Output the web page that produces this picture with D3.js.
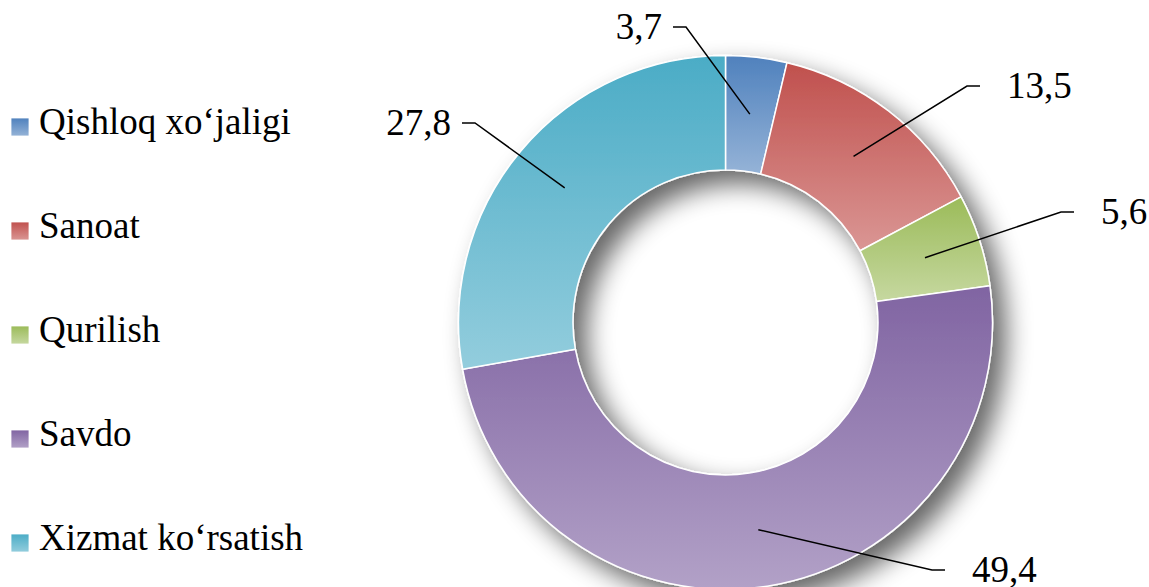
<!DOCTYPE html>
<html>
<head>
<meta charset="utf-8">
<script src="https://cdn.jsdelivr.net/npm/d3@7"></script>
<style>
  html, body { margin: 0; padding: 0; background: #fff; }
  svg { display: block; }
  svg text { font-family: "Liberation Serif", "DejaVu Serif", serif; }
</style>
</head>
<body>
<svg id="chart" width="1149" height="587"></svg>
<script>
// ---- data ----
const categories = ["Qishloq xo\u2018jaligi", "Sanoat", "Qurilish", "Savdo", "Xizmat ko\u2018rsatish"];
const values = [3.7, 13.5, 5.6, 49.4, 27.8];
const valueLabels = ["3,7", "13,5", "5,6", "49,4", "27,8"];

// ---- styling / layout ----
const colorTop = ["#4F81BD", "#C0504D", "#9BBB59", "#8064A2", "#4BACC6"];
const colorBottom = ["#95B3D7", "#DA9694", "#C6D8A0", "#B2A1C7", "#93CDDD"];
// label elbow offsets relative to donut centre (layout, not data)
const labelOffsets = [
  { dx: -39.5, dy: -295.5 },
  { dx: 241.5, dy: -236.5 },
  { dx: 335.5, dy: -110.5 },
  { dx: 206.5, dy: 247.5 },
  { dx: -250.5, dy: -199.5 }
];

const W = 1149, H = 587;
const cx = 725.5, cy = 322.5, rOuter = 267, rInner = 152.5;
const fontSize = 37;

const svg = d3.select("#chart");
const defs = svg.append("defs");

categories.forEach((c, i) => {
  const g = defs.append("linearGradient")
    .attr("id", "grad" + i)
    .attr("x1", 0).attr("y1", 0).attr("x2", 0).attr("y2", 1);
  g.append("stop").attr("offset", "0%").attr("stop-color", colorTop[i]);
  g.append("stop").attr("offset", "100%").attr("stop-color", colorBottom[i]);
});

const filter = defs.append("filter").attr("id", "shadow")
  .attr("x", "-20%").attr("y", "-20%").attr("width", "140%").attr("height", "140%");
filter.append("feGaussianBlur").attr("in", "SourceAlpha").attr("stdDeviation", 13).attr("result", "blur");
filter.append("feOffset").attr("in", "blur").attr("dx", 13).attr("dy", 13).attr("result", "off");
filter.append("feComponentTransfer").attr("in", "off").attr("result", "sh")
  .append("feFuncA").attr("type", "linear").attr("slope", 0.6);
const merge = filter.append("feMerge");
merge.append("feMergeNode").attr("in", "sh");
merge.append("feMergeNode").attr("in", "SourceGraphic");

const pie = d3.pie().sort(null).value(d => d).startAngle(0).endAngle(2 * Math.PI);
const arcs = pie(values);
const arc = d3.arc().innerRadius(rInner).outerRadius(rOuter);

const donut = svg.append("g").attr("transform", `translate(${cx},${cy})`);
const ring = donut.append("g").attr("filter", "url(#shadow)");
ring.selectAll("path.slice")
  .data(arcs)
  .join("path")
  .attr("class", "slice")
  .attr("d", arc)
  .attr("fill", (d, i) => `url(#grad${i})`)
  .attr("stroke", "#fff")
  .attr("stroke-width", 1.5)
  .attr("stroke-linejoin", "round");

// leader lines and labels
const labels = donut.append("g");
arcs.forEach((d, i) => {
  const [sx, sy] = arc.centroid(d);
  const ex = labelOffsets[i].dx, ey = labelOffsets[i].dy;
  const left = ex < 0;
  const tailX = left ? ex - 13 : ex + 13;
  labels.append("path")
    .attr("d", d3.line()([[sx, sy], [ex, ey], [tailX, ey]]))
    .attr("fill", "none")
    .attr("stroke", "#000")
    .attr("stroke-width", 1.5);
  labels.append("text")
    .attr("x", left ? tailX - 11 : tailX + 27)
    .attr("y", ey + 12)
    .attr("text-anchor", left ? "end" : "start")
    .attr("font-size", fontSize)
    .attr("fill", "#000")
    .text(valueLabels[i]);
});

// legend
const ly = d3.scalePoint().domain(categories).range([134, 550]);
const legend = svg.append("g");
const item = legend.selectAll("g.item")
  .data(categories)
  .join("g")
  .attr("class", "item")
  .attr("transform", d => `translate(0,${ly(d)})`);
item.append("rect")
  .attr("x", 11).attr("y", -16).attr("width", 18).attr("height", 18)
  .attr("fill", (d, i) => `url(#grad${i})`)
  .attr("stroke", "#fff").attr("stroke-width", 0.8);
item.append("text")
  .attr("x", 39).attr("y", 0)
  .attr("font-size", fontSize)
  .attr("fill", "#000")
  .text(d => d);
</script>
</body>
</html>
